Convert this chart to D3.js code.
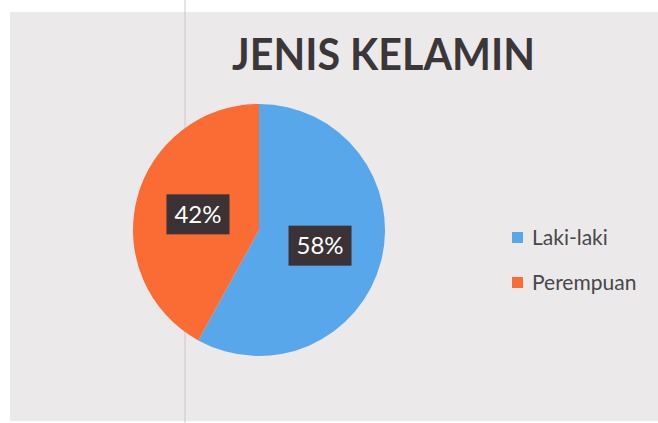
<!DOCTYPE html>
<html lang="id">
  <head>
    <meta charset="utf-8">
    <title>Jenis Kelamin</title>
    <style>
      body { margin: 0; background: #ffffff; }
      svg { display: block; }
      text { font-family: Lato, "Open Sans", sans-serif; }
    </style>
    <script src="https://d3js.org/d3.v7.min.js"></script>
  </head>
  <body>
    <div class="viz"></div>
    <script>
    // data
    const categories = ["Laki-laki", "Perempuan"];
    const values = [58, 42];
    const colors = ["#58a7ea", "#fb6b34"];
    const chartTitle = "JENIS KELAMIN";

    const width = 658, height = 423;

    const svg = d3.select(".viz")
      .append("svg")
      .attr("width", width)
      .attr("height", height);

    // scanned page background
    svg.append("rect")
      .attr("x", 10).attr("y", 12)
      .attr("width", width - 10).attr("height", height - 14)
      .attr("fill", "#ece9ea");

    svg.append("line")
      .attr("x1", 185).attr("x2", 185)
      .attr("y1", 0).attr("y2", height)
      .attr("stroke", "#cbc6c8")
      .attr("stroke-width", 1);

    svg.append("text")
      .attr("x", 232)
      .attr("y", 70)
      .attr("textLength", 303)
      .attr("lengthAdjust", "spacingAndGlyphs")
      .style("font-size", "44px")
      .style("font-weight", "bold")
      .style("fill", "#3b3638")
      .text(chartTitle);

    const data = categories.map((c, i) => ({ name: c, value: values[i] }));

    const color = d3.scaleOrdinal().domain(categories).range(colors);

    const pie = d3.pie().value(d => d.value).sort(null);
    const radius = 126;
    const arc = d3.arc().innerRadius(0).outerRadius(radius);

    const g = svg.append("g")
      .attr("transform", "translate(259,230)");

    g.selectAll("path")
      .data(pie(data))
      .join("path")
      .attr("d", arc)
      .attr("fill", d => color(d.data.name));

    const labels = g.selectAll("g.lbl")
      .data(pie(data))
      .join("g")
      .attr("class", "lbl")
      .attr("transform", d => `translate(${arc.centroid(d)})`);

    labels.append("rect")
      .attr("x", -31.5).attr("y", -20)
      .attr("width", 63).attr("height", 40)
      .attr("fill", "#3a3234");

    labels.append("text")
      .attr("text-anchor", "middle")
      .attr("dy", "0.36em")
      .style("font-size", "24px")
      .style("fill", "#ffffff")
      .text(d => d.data.value + "%");

    // legend
    const legend = svg.append("g")
      .attr("transform", "translate(512,232)");

    const item = legend.selectAll("g")
      .data(categories)
      .join("g")
      .attr("transform", (d, i) => `translate(0,${i * 45})`);

    item.append("rect")
      .attr("width", 11).attr("height", 11)
      .attr("fill", d => color(d));

    item.append("text")
      .attr("x", 20)
      .attr("y", 13)
      .style("font-size", "21px")
      .style("fill", "#47474a")
      .text(d => d);
    </script>
  </body>
</html>
